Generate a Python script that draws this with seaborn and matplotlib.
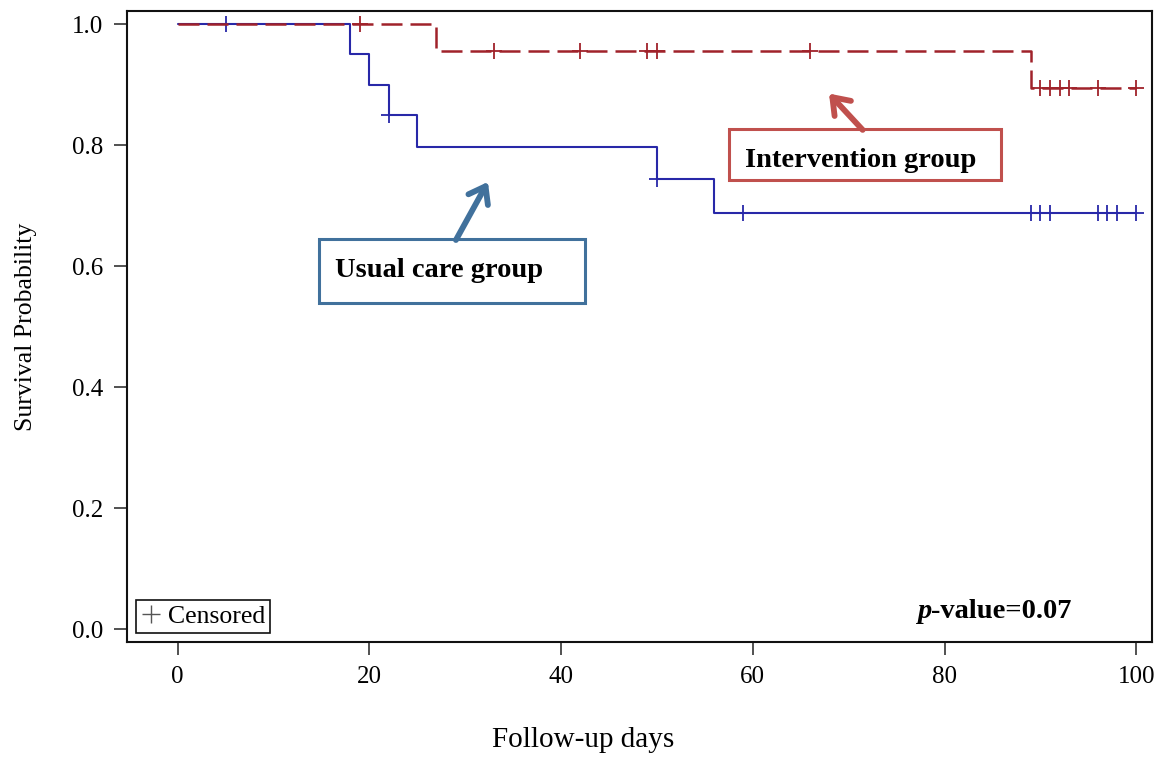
import numpy as np
import pandas as pd
import seaborn as sns
import matplotlib.pyplot as plt
from matplotlib.patches import Rectangle
from matplotlib.lines import Line2D

# Kaplan-Meier step values
usual_times = [0, 18, 20, 22, 25, 50, 56, 100]
usual_surv = [1.0, 0.95, 0.90, 0.85, 0.797, 0.744, 0.687, 0.687]
usual_censored = [5, 22, 50, 59, 89, 90, 91, 96, 97, 98, 100]

interv_times = [0, 27, 89, 100]
interv_surv = [1.0, 0.955, 0.895, 0.895]
interv_censored = [19, 33, 42, 49, 50, 66, 90, 91, 92, 93, 96, 100]

x_ticks = [0, 20, 40, 60, 80, 100]
y_ticks = [0.0, 0.2, 0.4, 0.6, 0.8, 1.0]

BLUE = '#2828A8'
RED = '#A0222A'
UC_EDGE = '#41719C'
IG_EDGE = '#C0504D'


def step_frame(times, surv):
    return pd.DataFrame({'day': times, 'surv': surv})


def censor_frame(cens, times, surv):
    # survival at each censoring time = value of the step just after it
    idx = np.searchsorted(times, cens, side='right') - 1
    return pd.DataFrame({'day': cens, 'surv': np.asarray(surv)[idx]})


sns.set_style('ticks')
plt.rcParams['font.family'] = ['Liberation Serif', 'DejaVu Serif']
plt.rcParams['text.color'] = 'black'
plt.rcParams['axes.labelcolor'] = 'black'
plt.rcParams['xtick.color'] = 'black'
plt.rcParams['ytick.color'] = 'black'

fig = plt.figure(figsize=(11.7, 7.7), dpi=100)
ax = fig.add_axes([0.1085, 0.1662, 0.8759, 0.8195])

sns.lineplot(data=step_frame(usual_times, usual_surv), x='day', y='surv',
             drawstyle='steps-post', estimator=None, color=BLUE, lw=1.5, ax=ax)
sns.scatterplot(data=censor_frame(usual_censored, usual_times, usual_surv),
                x='day', y='surv', marker='+', s=130, color=BLUE, linewidth=1.3, ax=ax)

sns.lineplot(data=step_frame(interv_times, interv_surv), x='day', y='surv',
             drawstyle='steps-post', estimator=None, color=RED, lw=1.8,
             linestyle=(0, (8.4, 3.2)), ax=ax)
sns.scatterplot(data=censor_frame(interv_censored, interv_times, interv_surv),
                x='day', y='surv', marker='+', s=130, color=RED, linewidth=1.3, ax=ax)

ax.set_xlim(-5.29, 101.62)
ax.set_ylim(-0.0215, 1.0215)
ax.set_xticks(x_ticks)
ax.set_yticks(y_ticks)
ax.set_yticklabels([f'{v:.1f}' for v in y_ticks])
ax.tick_params(axis='both', labelsize=18, length=9.4, width=1.1, pad=8, color='#222222')
for sp in ax.spines.values():
    sp.set_linewidth(1.5)
    sp.set_color('#111111')

ax.set_xlabel('Follow-up days', fontsize=21)
ax.xaxis.set_label_coords(0.445, -0.135)
ax.set_ylabel('Survival Probability', fontsize=18.5)
ax.yaxis.set_label_coords(-0.088, 0.5)

# annotation boxes with arrows
ax.add_patch(Rectangle((14.74, 0.539), 27.75, 0.106, facecolor='white',
                       edgecolor=UC_EDGE, lw=2.2, zorder=4))
ax.text(16.4, 0.582, 'Usual care group', fontsize=20.5, fontweight='bold',
        va='baseline', zorder=5)
ax.annotate('', xy=(32.37, 0.739), xytext=(29.03, 0.643),
            arrowprops=dict(arrowstyle='->, head_length=0.55, head_width=0.4',
                            lw=4.2, color=UC_EDGE, shrinkA=0, shrinkB=0,
                            mutation_scale=20), zorder=5)

ax.add_patch(Rectangle((57.5, 0.742), 28.36, 0.084, facecolor='white',
                       edgecolor=IG_EDGE, lw=2.2, zorder=4))
ax.text(59.2, 0.764, 'Intervention group', fontsize=20.5, fontweight='bold',
        va='baseline', zorder=5)
ax.annotate('', xy=(67.95, 0.885), xytext=(71.46, 0.825),
            arrowprops=dict(arrowstyle='->, head_length=0.55, head_width=0.4',
                            lw=4.2, color=IG_EDGE, shrinkA=0, shrinkB=0,
                            mutation_scale=20), zorder=5)

# p-value with italic p
p_txt = ax.text(77.13, 0.018, 'p', fontsize=20.5, fontweight='bold',
                fontstyle='italic', va='baseline')
ax.annotate('-value=0.07', xy=(1, 0), xycoords=p_txt, fontsize=20.5,
            fontweight='bold', va='bottom', ha='left')

# censored legend
handle = Line2D([], [], marker='+', linestyle='none', color='#555555',
                markersize=13, markeredgewidth=1)
leg = ax.legend(handles=[handle], labels=['Censored'], loc='lower left',
                bbox_to_anchor=(0.0088, 0.0143), borderaxespad=0,
                fontsize=18.5, frameon=True, fancybox=False, framealpha=1,
                edgecolor='#111111', borderpad=0.2, handlelength=0.75,
                handletextpad=0.3)
leg.get_frame().set_linewidth(1.2)

fig.savefig('out.png', dpi=100)
